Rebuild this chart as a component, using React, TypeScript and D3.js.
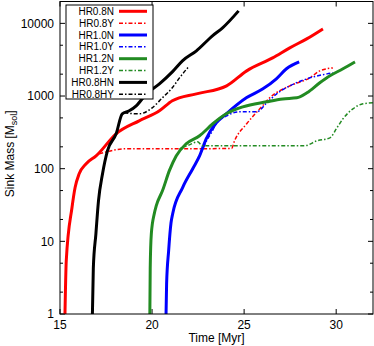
import React from 'react';
import * as d3 from 'd3';

// [time in Myr, sink mass in Msol]
const hr08N: [number, number][] = [
  [15.27, 1], [15.34, 5.4], [15.65, 29], [15.82, 55], [16.04, 85], [16.42, 117],
  [16.96, 150], [18.05, 302], [19.3, 456], [20.4, 626], [21.1, 859], [22.41, 1072],
  [24.05, 1380], [25.14, 2220], [26.55, 3350], [27.48, 4600], [28.4, 6120], [29.28, 8400],
];
const hr08Y: [number, number][] = [
  [17.13, 160], [18.6, 188], [21.49, 188], [24.32, 190], [24.48, 242], [25.14, 415],
  [26.0, 733], [26.39, 944], [27.48, 1380], [28.57, 1780], [29.11, 2220], [29.82, 2440],
];
const hr10N: [number, number][] = [
  [20.76, 1], [20.79, 2.6], [20.9, 7.4], [21.03, 18], [21.12, 24], [21.66, 55],
  [22.21, 100], [22.58, 150], [22.94, 258], [23.49, 428], [24.03, 569], [25.12, 944],
  [26.02, 1256], [26.75, 1725], [27.3, 2370], [27.99, 2950],
];
const hr10Y: [number, number][] = [
  [22.58, 150], [22.96, 242], [23.28, 332], [23.5, 428], [24.05, 534], [24.75, 606],
  [25.68, 606], [26.23, 806], [26.77, 1072], [27.48, 1380], [28.41, 1725], [29.5, 2018],
  [29.82, 2085],
];
const hr12N: [number, number][] = [
  [19.88, 1], [19.9, 4.3], [19.96, 12.7], [20.12, 24], [20.23, 31], [20.57, 50],
  [20.94, 94], [21.31, 150], [21.85, 220], [22.58, 284], [23.3, 415], [24.03, 569],
  [24.93, 710], [26.21, 832], [27.1, 912], [27.86, 944], [28.41, 1107], [29.11, 1520],
  [29.66, 1896], [30.37, 2370], [31.02, 2950],
];
const hr12Y: [number, number][] = [
  [21.49, 188], [22.03, 213], [22.47, 234], [22.74, 207], [28.3, 207], [28.95, 242],
  [29.66, 266], [30.04, 365], [30.37, 486], [30.91, 667], [31.46, 781], [32, 806],
];
const hr08HN: [number, number][] = [
  [16.76, 1], [16.81, 4.3], [16.95, 12.7], [17.09, 36], [17.31, 85], [17.58, 177],
  [18.05, 302], [18.38, 569], [18.76, 626], [19.14, 733], [19.69, 1072], [20.4, 1470],
  [21.1, 2150], [21.65, 3050], [22.41, 4190], [23.28, 6730], [23.83, 8670], [24.7, 14860],
];
const hr08HY: [number, number][] = [
  [18.49, 587], [19.3, 569], [20.01, 689], [20.56, 944], [21.1, 1297], [21.49, 1780],
  [21.98, 2520],
];

const seriesNames = ['HR0.8N', 'HR0.8Y', 'HR1.0N', 'HR1.0Y', 'HR1.2N', 'HR1.2Y', 'HR0.8HN', 'HR0.8HY'];
const seriesData = [hr08N, hr08Y, hr10N, hr10Y, hr12N, hr12Y, hr08HN, hr08HY];
const seriesColors = ['#ff0000', '#ff0000', '#0000ff', '#0000ff', '#228b22', '#228b22', '#000000', '#000000'];
const seriesDashed = [false, true, false, true, false, true, false, true];

const xTicks = [15, 20, 25, 30];
const yTicks = [1, 10, 100, 1000, 10000];
const yMinor = [2, 5, 20, 50, 200, 500, 2000, 5000];

const W = 374;
const H = 346;
const left = 60;
const right = 373;
const top = 1.5;
const bottom = 314;
const font = '"Liberation Sans", Arial, Helvetica, sans-serif';

export default function App() {
  const x = d3.scaleLinear().domain([15, 32]).range([left, right]);
  const y = d3.scaleLog().domain([1, 20000]).range([bottom, top]);
  const line = d3.line<[number, number]>()
    .x(d => x(d[0]))
    .y(d => y(d[1]))
    .curve(d3.curveMonotoneX);

  const dash = '4,2,1.5,2';
  const legX = 66, legY = 5, legW = 87, legH = 94, rowH = 11.85;

  return (
    <svg width={W} height={H} style={{ position: 'absolute', left: 0, top: 0, background: 'white' }}
      fontFamily={font}>
      <defs>
        <clipPath id="plot">
          <rect x={left} y={top} width={right - left} height={bottom - top} />
        </clipPath>
      </defs>

      {/* ticks, mirrored on top and right */}
      {xTicks.map(t => (
        <g key={'x' + t}>
          <line x1={x(t)} x2={x(t)} y1={bottom} y2={bottom - 5} stroke="#000" />
          <line x1={x(t)} x2={x(t)} y1={top} y2={top + 5} stroke="#000" />
          <text x={x(t)} y={329} fontSize={12} textAnchor="middle">{t}</text>
        </g>
      ))}
      {yTicks.map(t => (
        <g key={'y' + t}>
          <line x1={left} x2={left + 5} y1={y(t)} y2={y(t)} stroke="#000" />
          <line x1={right} x2={right - 5} y1={y(t)} y2={y(t)} stroke="#000" />
          <text x={54} y={y(t)} dy="0.35em" fontSize={12} textAnchor="end">{t}</text>
        </g>
      ))}
      {yMinor.map(t => (
        <g key={'m' + t}>
          <line x1={left} x2={left + 3} y1={y(t)} y2={y(t)} stroke="#000" />
          <line x1={right} x2={right - 3} y1={y(t)} y2={y(t)} stroke="#000" />
        </g>
      ))}

      {/* curves */}
      <g clipPath="url(#plot)">
        {seriesData.map((d, i) => (
          <path key={seriesNames[i]} d={line(d) || ''} fill="none" stroke={seriesColors[i]}
            strokeWidth={seriesDashed[i] ? 1.5 : 3} strokeDasharray={seriesDashed[i] ? dash : undefined}
            strokeLinejoin="round" />
        ))}
      </g>

      <rect x={left} y={top} width={right - left} height={bottom - top} fill="none" stroke="#000" />

      {/* legend */}
      <rect x={legX} y={legY} width={legW} height={legH} fill="#fff" stroke="#000" />
      {seriesNames.map((n, i) => {
        const cy = legY + 6.3 + i * rowH;
        return (
          <g key={'l' + n}>
            <text x={114} y={cy} dy="0.35em" fontSize={10} textAnchor="end">{n}</text>
            <line x1={119} x2={147} y1={cy} y2={cy} stroke={seriesColors[i]}
              strokeWidth={seriesDashed[i] ? 1.5 : 3} strokeDasharray={seriesDashed[i] ? dash : undefined} />
          </g>
        );
      })}

      <text x={(left + right) / 2} y={342} fontSize={12} textAnchor="middle">Time [Myr]</text>
      <text transform={`translate(14,${(top + bottom) / 2 - 4}) rotate(-90)`} fontSize={12} textAnchor="middle">
        Sink Mass [M<tspan fontSize={9} dy={3}>sol</tspan><tspan dy={-3}>]</tspan>
      </text>
    </svg>
  );
}
